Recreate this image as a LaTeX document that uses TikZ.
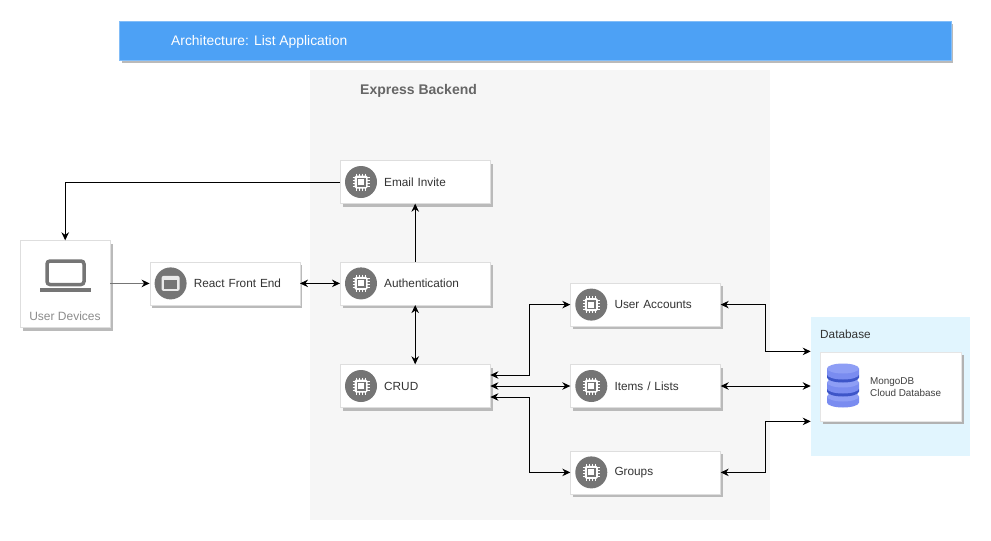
\documentclass[tikz,border=0pt]{standalone}
\usepackage{fontspec}
\setmainfont{Liberation Sans}
\usetikzlibrary{%
  positioning,
  calc,
  arrows.meta,
  shadows,
}
\definecolor{titleblue}{HTML}{4DA1F5}
\definecolor{panelgrey}{HTML}{F6F6F6}
\definecolor{paneldb}{HTML}{E1F5FE}
\definecolor{icongrey}{HTML}{757575}
\definecolor{dbblue}{HTML}{7A8CF0}
\definecolor{dbtop}{HTML}{8E9EF5}
\definecolor{dbdark}{HTML}{3D55C8}

\begin{document}
\begin{tikzpicture}[%
           x=1pt, y=-1pt,
           node distance=58pt and 40pt,
           card/.style={
             % The shape:
             rectangle,
             % The size:
             minimum height=43pt,
             text width=150pt,
             inner xsep=0pt,
             % The border:
             draw=black!13,
             fill=white,
             drop shadow={shadow xshift=2.5pt, shadow yshift=-3pt, fill=black!27, opacity=1},
             % The text:
             align=left,
             font=\fontsize{11.8}{14}\selectfont,
             text=black!80,
             execute at begin node={\hspace*{44pt}},
           },
           panel/.style={
             rectangle,
             anchor=north west,
             inner sep=0pt,
           },
           link/.style={
             -{Stealth[length=8pt,width=7.5pt,black]},
             line width=1pt,
           },
           biglink/.style={
             {Stealth[length=8pt,width=7.5pt]}-{Stealth[length=8pt,width=7.5pt]},
             line width=1pt,
           },
           chipicon/.pic={
             \fill[icongrey] (0,0) circle (16);
             \foreach \p in {-4.5,-1.5,1.5,4.5} {
               \draw[white, line width=0.9pt] (\p,-8.5) -- (\p,8.5);
               \draw[white, line width=0.9pt] (-8.5,\p) -- (8.5,\p);
             }
             \fill[white, rounded corners=1.5pt] (-6.5,-6.5) rectangle (6.5,6.5);
             \fill[icongrey] (-4.5,-4.5) rectangle (4.5,4.5);
             \fill[white] (-3,-3) rectangle (3,3);
           },
           windowicon/.pic={
             \fill[icongrey] (0,0) circle (16);
             \fill[white!85!icongrey, rounded corners=2pt] (-9,-7.5) rectangle (9,7.5);
             \fill[icongrey] (-6.5,-3.5) rectangle (6.5,5.5);
           },
           dbdisc/.pic={
             \fill[dbblue] (-16,-6) -- (-16,0) arc[start angle=180, end angle=360, x radius=16, y radius=-5]
               -- (16,-6) -- cycle;
             \fill[dbtop] (0,-6) ellipse (16 and 5);
           },
           dbband/.pic={
             \fill[dbdark] (-16,0) -- (-16,3) arc[start angle=180, end angle=360, x radius=16, y radius=-5]
               -- (16,0) -- cycle;
           },
         ]
         \useasboundingbox (0,0) rectangle (991,541);

         % The title bar and the two panels:
         \node[panel, fill=titleblue, minimum width=831.5pt, minimum height=39.5pt,
               draw=titleblue!70!white,
               drop shadow={shadow xshift=2.5pt, shadow yshift=-3pt, fill=black!27, opacity=1}]
               (titlebar) at (119.2,20.5) {};
         \node[anchor=west, text=white, inner sep=0pt, font=\fontsize{13.85}{16}\selectfont]
               (titletext) at (171,42) {Architecture: List Application};
         \node[panel, fill=panelgrey, minimum width=460pt, minimum height=450pt] (backend) at (310,70) {};
         \node[anchor=west, inner sep=0pt, text=black!60, font=\fontsize{14}{16}\selectfont\bfseries]
               (backendtext) at (360,91) {Express Backend};
         \node[panel, fill=paneldb, minimum width=159pt, minimum height=139pt] (dbpanel) at (810.7,316.7) {};
         \node[anchor=west, inner sep=0pt, text=black!80, font=\fontsize{11.8}{14}\selectfont]
               (dbtext) at (820,334) {Database};

         % The services:
         \node[card] (email) at (415.2,182) {Email Invite};
         \node[card] (auth) [below=of email] {Authentication};
         \node[card] (crud) [below=59.2pt of auth] {CRUD};
         \node[card] (react) [left=of auth] {React Front End};
         \node[card] (items) [right=79.9pt of crud] {Items / Lists};
         \node[card] (accounts) [above=38pt of items] {User Accounts};
         \node[card] (groups) [below=43pt of items] {Groups};
         \node[panel, minimum width=90pt, minimum height=87pt, draw=black!13, fill=white,
               drop shadow={shadow xshift=2.5pt, shadow yshift=-3pt, fill=black!27, opacity=1}]
               (devices) at (20,240.3) {};
         \node[inner sep=0pt, text=black!45, font=\fontsize{12}{14}\selectfont]
               (devicestext) at (65,316) {User Devices};
         \node[panel, minimum width=141pt, minimum height=69.5pt, draw=black!10, fill=white,
               drop shadow={shadow xshift=2.5pt, shadow yshift=-3pt, fill=black!30, opacity=1}]
               (mongo) at (820.3,351.7) {};
         \node[anchor=west, inner sep=0pt, align=left, text=black!75, font=\fontsize{9.9}{12}\selectfont]
               (mongotext) at (870,387) {MongoDB\\Cloud Database};

         % The icons:
         \foreach \n in {email, auth, crud, accounts, items, groups} {
           \pic at ($ (\n.west) + (21,0) $) {chipicon};
         }
         \pic at ($ (react.west) + (21,0) $) {windowicon};
         \draw[icongrey, line width=3.5pt, rounded corners=3pt] (47,261) rectangle (84,284.5);
         \fill[icongrey] (40,288) rectangle (91,292);
         \pic at (843,402.5) {dbdisc};
         \pic at (843,388.5) {dbband};
         \pic at (843,388.5) {dbdisc};
         \pic at (843,374.5) {dbband};
         \pic at (843,374.5) {dbdisc};

         % The connectors:
         \draw[link] (email.west) -| (devices.north);
         \draw[link, icongrey, line width=1.6pt] (devices.east |- react.west) -- (react.west);
         \draw[biglink] (react.east) -- (auth.west);
         \draw[link] (auth.north) -- (email.south);
         \draw[biglink] (auth.south) -- (crud.north);
         \draw[biglink] ($ (crud.east) + (0,-11) $) -- ++(39,0) |- (accounts.west);
         \draw[biglink] (crud.east) -- (items.west);
         \draw[biglink] ($ (crud.east) + (0,11) $) -- ++(39,0) |- (groups.west);
         \draw[biglink] (accounts.east) -- ++(44.5,0) |- ($ (dbpanel.west) + (0,-35) $);
         \draw[biglink] (items.east) -- (items.east -| dbpanel.west);
         \draw[biglink] (groups.east) -- ++(44.5,0) |- ($ (dbpanel.west) + (0,35) $);

     \end{tikzpicture}
\end{document}
